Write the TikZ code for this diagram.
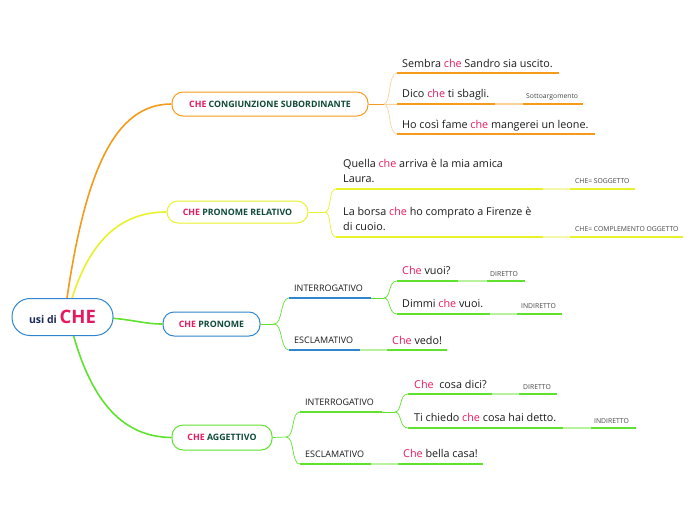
\documentclass[tikz,border=0pt]{standalone}
\usepackage{fontspec}
\setmainfont{Open Sans}
\definecolor{ora}{HTML}{F59A1B}
\definecolor{oral}{HTML}{FAD29A}
\definecolor{yel}{HTML}{E8F22A}
\definecolor{yell}{HTML}{F5F8A8}
\definecolor{grn}{HTML}{5EE22E}
\definecolor{grnl}{HTML}{B8F29E}
\definecolor{blu}{HTML}{2F86D0}
\definecolor{crim}{HTML}{E5195E}
\definecolor{dkg}{HTML}{0F4A38}
\definecolor{navy}{HTML}{1B2A5A}
\definecolor{txtc}{HTML}{1A1A1A}
\definecolor{lblc}{HTML}{444444}
\newcommand{\ch}[1]{\textcolor{crim}{#1}}
\tikzset{
  mainbox/.style={draw, rounded corners=11pt, inner sep=0pt, line width=1pt, fill=white,
    font=\fontsize{8.8}{10}\selectfont\bfseries, text=dkg},
  txt/.style={anchor=base west, inner sep=0pt, font=\fontsize{10.8}{13}\selectfont, text=txtc},
  lbl/.style={anchor=base west, inner sep=0pt, font=\fontsize{6.8}{8}\selectfont, text=lblc},
  cat/.style={anchor=base west, inner sep=0pt, font=\fontsize{9}{10}\selectfont, text=txtc},
  trunk/.style={line width=1.6pt},
  twig/.style={line width=0.7pt},
  uline/.style={line width=1.2pt},
}
\begin{document}
\begin{tikzpicture}[x=1pt,y=-1pt]
\useasboundingbox (0,0) rectangle (696,520);

% ---------- branch nodes ----------
\node[mainbox, draw=ora, minimum width=196pt, minimum height=24pt] (n1) at (270,104) {\ch{CHE} CONGIUNZIONE SUBORDINANTE};
\node[mainbox, draw=yel, minimum width=141pt, minimum height=22pt] (n2) at (237.5,212) {\ch{CHE} PRONOME RELATIVO};
\node[mainbox, draw=blu, minimum width=97pt, minimum height=24pt] (n3) at (211.5,324) {\ch{CHE} PRONOME};
\node[mainbox, draw=grn, minimum width=100pt, minimum height=25pt] (n4) at (222,437.5) {\ch{CHE} AGGETTIVO};

% ---------- trunks ----------
\coordinate (c1) at (66,305);
\coordinate (c2) at (70,305);
\coordinate (c3) at (110,318);
\coordinate (c4) at (72,330);
\draw[trunk, ora] (c1) .. controls (85,170) and (115,104) .. (n1.west);
\draw[trunk, yel] (c2) .. controls (90,235) and (125,212) .. (n2.west);
\draw[trunk, grn] (c3) .. controls (135,320) and (145,324) .. (n3.west);
\draw[trunk, grn] (c4) .. controls (92,405) and (125,437) .. (n4.west);

% ---------- central ----------
\node[draw=blu, line width=1pt, rounded corners=18pt, minimum width=101pt, minimum height=37pt, inner sep=0pt, fill=white] (c) at (62.5,317)
  {\fontsize{10.5}{12}\selectfont\bfseries\textcolor{navy}{usi di} \fontsize{18.5}{21}\selectfont\textcolor{crim}{CHE}};

% ---------- branch 1 ----------
\coordinate (j1) at (384,104);
\coordinate (a1) at (397,73);
\coordinate (a2) at (397,104);
\coordinate (a3) at (397,134);
\draw[twig, ora] (n1.east) -- (j1);
\draw[twig, oral] (j1) .. controls (391,104) and (388,73) .. (a1);
\draw[twig, oral] (j1) -- (a2);
\draw[twig, oral] (j1) .. controls (391,104) and (388,134) .. (a3);
\draw[uline, ora] (a1) -- (559,73);
\draw[uline, ora] (a2) -- (495,104);
\draw[uline, oral] (495,104) -- (523,104);
\draw[uline, ora] (523,104) -- (583,104);
\draw[uline, ora] (a3) -- (595,134);
\node[txt] (t11) at (402,67) {Sembra \ch{che} Sandro sia uscito.};
\node[txt] (t12) at (402,97) {Dico \ch{che} ti sbagli.};
\node[lbl] (l12) at (526,98) {Sottoargomento};
\node[txt] (t13) at (402,128) {Ho così fame \ch{che} mangerei un leone.};

% ---------- branch 2 ----------
\coordinate (j2) at (325,212);
\coordinate (b1) at (336,189);
\coordinate (b2) at (336,237);
\draw[twig, yel] (n2.east) -- (j2);
\draw[twig, yel] (j2) .. controls (332,212) and (328,189) .. (b1);
\draw[twig, yel] (j2) .. controls (332,212) and (328,237) .. (b2);
\draw[uline, yel] (b1) -- (543,189);
\draw[uline, yell] (543,189) -- (570,189);
\draw[uline, yel] (570,189) -- (635,189);
\draw[uline, yel] (b2) -- (543,237);
\draw[uline, yell] (543,237) -- (570,237);
\draw[uline, yel] (570,237) -- (683,237);
\node[txt] (t21) at (343,167) {Quella \ch{che} arriva è la mia amica};
\node[txt] (t21b) at (343,182) {Laura.};
\node[lbl] (l21) at (575,183) {CHE= SOGGETTO};
\node[txt] (t22) at (343,215) {La borsa \ch{che} ho comprato a Firenze è};
\node[txt] (t22b) at (343,230) {di cuoio.};
\node[lbl] (l22) at (575,231) {CHE= COMPLEMENTO OGGETTO};

% ---------- branch 3 ----------
\coordinate (j3) at (274,324);
\coordinate (p1) at (289,298);
\coordinate (p2) at (289,350);
\draw[twig, grn] (n3.east) -- (j3);
\draw[twig, grn] (j3) .. controls (283,324) and (280,298) .. (p1);
\draw[twig, grn] (j3) .. controls (283,324) and (280,350) .. (p2);
\draw[uline, blu] (p1) -- (371,298);
\draw[uline, blu] (p2) -- (360,350);
\node[cat] (k31) at (294,291) {INTERROGATIVO};
\node[cat] (k32) at (294,343) {ESCLAMATIVO};
\coordinate (j31) at (384,298);
\coordinate (q1) at (397,281);
\coordinate (q2) at (397,314);
\draw[twig, grn] (371,298) -- (j31);
\draw[twig, grn] (j31) .. controls (391,298) and (388,281) .. (q1);
\draw[twig, grn] (j31) .. controls (391,298) and (388,314) .. (q2);
\draw[uline, grn] (q1) -- (458,281);
\draw[uline, grnl] (458,281) -- (487,281);
\draw[uline, grn] (487,281) -- (525,281);
\draw[uline, grn] (q2) -- (490,314);
\draw[uline, grnl] (490,314) -- (517,314);
\draw[uline, grn] (517,314) -- (562,314);
\draw[uline, grnl] (360,350) -- (387,350);
\draw[uline, grn] (387,350) -- (447,350);
\node[txt] (t31) at (402,274) {\ch{Che} vuoi?};
\node[lbl] (l31) at (490,276) {DIRETTO};
\node[txt] (t32) at (402,307) {Dimmi \ch{che} vuoi.};
\node[lbl] (l32) at (521,308) {INDIRETTO};
\node[txt] (t33) at (392,344) {\ch{Che} vedo!};

% ---------- branch 4 ----------
\coordinate (j4) at (286,437);
\coordinate (r1) at (300,412);
\coordinate (r2) at (300,464);
\draw[twig, grn] (n4.east) -- (j4);
\draw[twig, grn] (j4) .. controls (295,437) and (291,412) .. (r1);
\draw[twig, grn] (j4) .. controls (295,437) and (291,464) .. (r2);
\draw[uline, grn] (r1) -- (382,412);
\draw[uline, grn] (r2) -- (371,464);
\node[cat] (k41) at (305,405) {INTERROGATIVO};
\node[cat] (k42) at (305,457) {ESCLAMATIVO};
\coordinate (j41) at (395,412);
\coordinate (s1) at (408,394);
\coordinate (s2) at (408,428);
\draw[twig, grn] (382,412) -- (j41);
\draw[twig, grn] (j41) .. controls (402,412) and (399,394) .. (s1);
\draw[twig, grn] (j41) .. controls (402,412) and (399,428) .. (s2);
\draw[uline, grn] (s1) -- (492,394);
\draw[uline, grnl] (492,394) -- (519,394);
\draw[uline, grn] (519,394) -- (557,394);
\draw[uline, grn] (s2) -- (563,428);
\draw[uline, grnl] (563,428) -- (591,428);
\draw[uline, grn] (591,428) -- (636,428);
\draw[uline, grnl] (371,464) -- (398,464);
\draw[uline, grn] (398,464) -- (483,464);
\node[txt] (t41) at (414,388) {\ch{Che}\ \ cosa dici?};
\node[lbl] (l41) at (523,389) {DIRETTO};
\node[txt] (t42) at (414,421) {Ti chiedo \ch{che} cosa hai detto.};
\node[lbl] (l42) at (594,423) {INDIRETTO};
\node[txt] (t43) at (403,457) {\ch{Che} bella casa!};
\end{tikzpicture}
\end{document}
